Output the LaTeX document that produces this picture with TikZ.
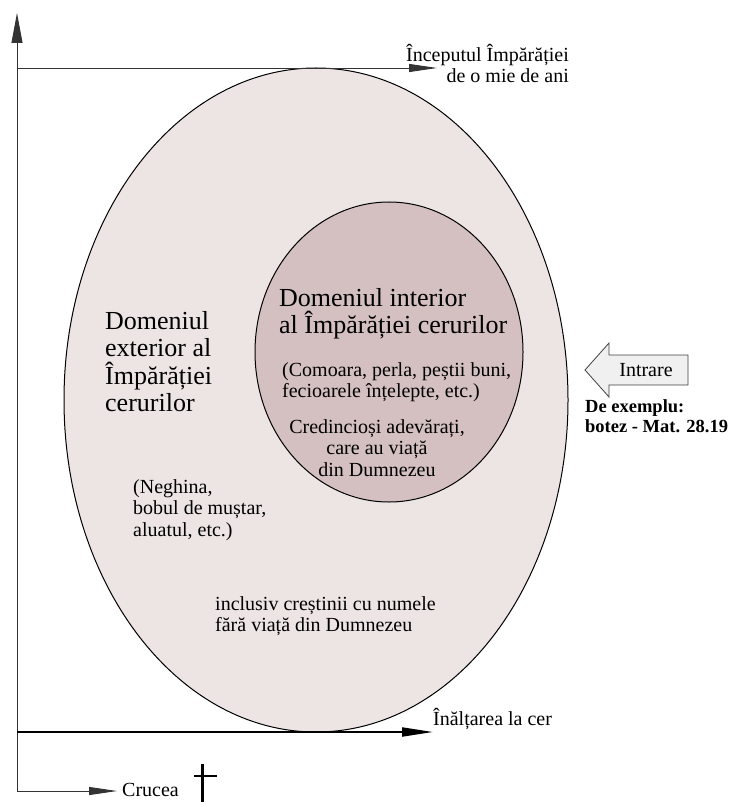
\documentclass[tikz,border=0pt]{standalone}
\usepackage{fontspec}
\setmainfont{Liberation Serif}
\usetikzlibrary{arrows.meta,shapes.geometric}
\definecolor{outerfill}{HTML}{EDE5E4}
\definecolor{innerfill}{HTML}{D4C0C0}
\definecolor{axisgray}{HTML}{333333}
\begin{document}
\begin{tikzpicture}[x=1pt,y=-1pt,
  small/.style={font=\fontsize{20}{21.5}\selectfont, inner sep=0pt},
  big/.style={font=\fontsize{26}{27.5}\selectfont, inner sep=0pt},
  boldtxt/.style={font=\bfseries\fontsize{18.5}{20.5}\selectfont, inner sep=0pt},
  axisline/.style={draw=axisgray, line width=0.9pt},
  longtip/.style={-{Triangle[length=28pt,width=8pt]}},
  region/.style={ellipse, draw=black, line width=1pt, inner sep=0pt}
]
\useasboundingbox (0,0) rectangle (731,802);

% regions
\node[region, fill=outerfill, minimum width=504pt, minimum height=664pt] (outer) at (316,400) {};
\node[region, fill=innerfill, minimum width=268pt, minimum height=300pt] (inner) at (389,352) {};

% axes
\coordinate (origin) at (17,791);
\coordinate (ytop) at (17,13);
\coordinate (ymil) at (17,68);
\coordinate (milTip) at (437,68);
\coordinate (yasc) at (17,732);
\coordinate (ascTip) at (433,732);
\coordinate (crossTip) at (117,791);

\draw[axisline, -{Triangle[length=30pt,width=11pt]}] (origin) -- (ytop);
\draw[axisline, longtip] (ymil) -- (milTip);
\draw[line width=2pt, -{Triangle[length=31pt,width=9pt]}] (yasc) -- (ascTip);
\draw[axisline, longtip] (origin) -- (crossTip);

% labels on axes
\node[small, align=right, anchor=north east] (milLabel) at (569,44) {Începutul Împărăției\\de o mie de ani};
\node[small, anchor=base west] (ascLabel) at (433,725) {Înălțarea la cer};
\node[small, anchor=base west] (crossLabel) at (122,796) {Crucea};

% cross
\draw[line width=3pt] (202.5,764) -- (202.5,802);
\draw[line width=2.5pt] (194,776) -- (217,776);

% inner texts
\node[big, align=left, anchor=north west] (innerTitle) at (279,288) {Domeniul interior\\al Împărăției cerurilor};
\node[small, align=left, anchor=north west] (innerEx) at (282,362) {(Comoara, perla, peștii buni,\\fecioarele înțelepte, etc.)};
\node[small, align=center, anchor=north] (innerBel) at (377,419) {Credincioși adevărați,\\care au viață\\din Dumnezeu};

% outer texts
\node[big, align=left, anchor=north west] (outerTitle) at (105,311) {Domeniul\\exterior al\\Împărăției\\cerurilor};
\node[small, align=left, anchor=north west] (outerEx) at (133,479) {(Neghina,\\bobul de muștar,\\aluatul, etc.)};
\node[small, align=left, anchor=north west] (outerNom) at (215,596) {inclusiv creștinii cu numele\\fără viață din Dumnezeu};

% entry arrow
\draw[draw=black!75, line width=0.8pt, fill=black!6] (585,370) -- (609,343) -- (609,355) -- (688,355) -- (688,385) -- (609,385) -- (609,397) -- cycle;
\node[small] (entry) at (646,370) {Intrare};
\node[boldtxt, align=left, anchor=north west] (example) at (585,399) {De exemplu:\\botez - Mat. 28.19};
\end{tikzpicture}
\end{document}
